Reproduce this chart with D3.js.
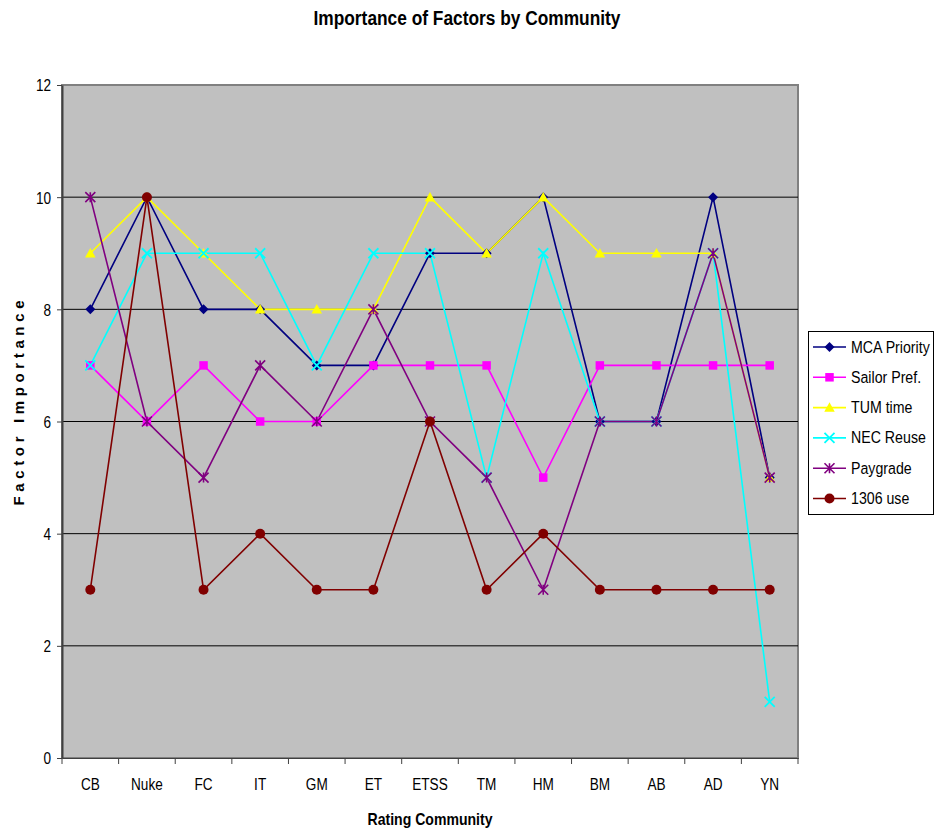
<!DOCTYPE html>
<html><head><meta charset="utf-8">
<script src="https://cdn.jsdelivr.net/npm/d3@7"></script>
<style>
body{margin:0;background:#fff;}
text{font-family:"Liberation Sans",Arial,sans-serif;}
</style></head>
<body><svg id="c" width="935" height="830"></svg>
<script>
const categories = ["CB","Nuke","FC","IT","GM","ET","ETSS","TM","HM","BM","AB","AD","YN"];
const mcaPriority = [8,10,8,8,7,7,9,9,10,6,6,10,5];
const sailorPref  = [7,6,7,6,6,7,7,7,5,7,7,7,7];
const tumTime     = [9,10,9,8,8,8,10,9,10,9,9,9,5];
const necReuse    = [7,9,9,9,7,9,9,5,9,6,6,9,1];
const paygrade    = [10,6,5,7,6,8,6,5,3,6,6,9,5];
const use1306     = [3,10,3,4,3,3,6,3,4,3,3,3,3];
const yTicks = [0,2,4,6,8,10,12];

const series = [
  {name:"MCA Priority", values:mcaPriority, color:"#000080", sym:"diamond"},
  {name:"Sailor Pref.", values:sailorPref, color:"#FF00FF", sym:"square"},
  {name:"TUM time", values:tumTime, color:"#FFFF00", sym:"triangle"},
  {name:"NEC Reuse", values:necReuse, color:"#00FFFF", sym:"x"},
  {name:"Paygrade", values:paygrade, color:"#800080", sym:"star"},
  {name:"1306 use", values:use1306, color:"#800000", sym:"circle"}
];

const svg = d3.select("#c");
const L=62, R=798, T=85, B=758;
const x = d3.scaleBand().domain(categories).range([L,R]);
const y = d3.scaleLinear().domain([0,12]).range([B,T]);
const SX = 0.8;

svg.append("rect").attr("x",L).attr("y",T).attr("width",R-L).attr("height",B-T)
  .attr("fill","#C0C0C0").attr("stroke","#808080").attr("stroke-width",2);

// gridlines
svg.append("g").selectAll("line").data(yTicks.filter(d=>d>0&&d<12)).join("line")
  .attr("x1",L).attr("x2",R).attr("y1",d=>y(d)).attr("y2",d=>y(d))
  .attr("stroke","#000").attr("stroke-width",1);

// y axis
const ya = svg.append("g").attr("transform",`translate(${L},0)`)
  .call(d3.axisLeft(y).tickValues(yTicks).tickSize(5).tickSizeOuter(0).tickPadding(0));
ya.select(".domain").attr("stroke","#404040").attr("stroke-width",2);
ya.selectAll("line").attr("stroke","#404040");
ya.selectAll("text").attr("font-size",17).attr("fill","#000")
  .attr("x",null).attr("dy","0.35em")
  .attr("transform",`translate(-11,0) scale(${SX},1)`);

// x axis
const xa = svg.append("g").attr("transform",`translate(0,${B})`)
  .call(d3.axisBottom(x).tickSize(0).tickPadding(0));
xa.select(".domain").attr("stroke","#404040").attr("stroke-width",1);
xa.selectAll("text").attr("font-size",17).attr("fill","#000")
  .attr("y",null).attr("dy","0.71em")
  .attr("transform",`translate(0,20) scale(${SX},1)`);
// category boundary ticks
svg.append("g").selectAll("line").data(categories.concat(["_end"])).join("line")
  .attr("x1",(d,i)=>i<categories.length?x(d):R).attr("x2",(d,i)=>i<categories.length?x(d):R)
  .attr("y1",B).attr("y2",B+6).attr("stroke","#404040");

const cx = c => x(c)+x.bandwidth()/2;

function drawSym(g, sym, color, s){
  if(sym==="diamond"){
    g.append("path").attr("d",`M0,${-s}L${s},0L0,${s}L${-s},0Z`).attr("fill",color);
  } else if(sym==="square"){
    g.append("rect").attr("x",-s*0.85).attr("y",-s*0.85).attr("width",s*1.7).attr("height",s*1.7).attr("fill",color);
  } else if(sym==="triangle"){
    g.append("path").attr("d",`M0,${-s*1.05}L${s*1.05},${s*0.85}L${-s*1.05},${s*0.85}Z`).attr("fill",color);
  } else if(sym==="x"){
    g.append("path").attr("d",`M${-s},${-s}L${s},${s}M${-s},${s}L${s},${-s}`).attr("stroke",color).attr("stroke-width",1.8).attr("fill","none");
  } else if(sym==="star"){
    g.append("path").attr("d",`M${-s},${-s}L${s},${s}M${-s},${s}L${s},${-s}M0,${-s}L0,${s}`).attr("stroke",color).attr("stroke-width",1.6).attr("fill","none");
  } else if(sym==="circle"){
    g.append("circle").attr("r",s).attr("fill",color);
  }
}

const line = d3.line().x((d,i)=>cx(categories[i])).y(d=>y(d));
series.forEach(s=>{
  svg.append("path").datum(s.values).attr("d",line).attr("fill","none")
    .attr("stroke",s.color).attr("stroke-width",1.6);
});
series.forEach(s=>{
  s.values.forEach((v,i)=>{
    const g = svg.append("g").attr("transform",`translate(${cx(categories[i])},${y(v)})`);
    drawSym(g, s.sym, s.color, 5);
  });
});

// title
svg.append("text").attr("x",467).attr("y",25).attr("text-anchor","middle")
  .attr("font-size",20).attr("font-weight","bold")
  .attr("textLength",307).attr("lengthAdjust","spacingAndGlyphs")
  .text("Importance of Factors by Community");
// axis titles
svg.append("text").attr("x",430).attr("y",825).attr("text-anchor","middle")
  .attr("font-size",17).attr("font-weight","bold")
  .attr("textLength",125).attr("lengthAdjust","spacingAndGlyphs")
  .text("Rating Community");
svg.append("text").attr("transform","translate(24,403) rotate(-90)").attr("text-anchor","middle")
  .attr("font-size",15).attr("font-weight","bold")
  .attr("textLength",205).attr("lengthAdjust","spacing")
  .text("Factor Importance");

// legend
const lg = svg.append("g");
lg.append("rect").attr("x",808.5).attr("y",331.5).attr("width",125).attr("height",183)
  .attr("fill","#fff").attr("stroke","#000");
series.forEach((s,i)=>{
  const yy = 347 + i*30.3;
  lg.append("line").attr("x1",813).attr("x2",846).attr("y1",yy).attr("y2",yy)
    .attr("stroke",s.color).attr("stroke-width",1.6);
  drawSym(lg.append("g").attr("transform",`translate(829.5,${yy})`), s.sym, s.color, 5);
  lg.append("text").attr("transform",`translate(851,${yy+5.5}) scale(0.86,1)`).attr("font-size",16.5)
    .text(s.name);
});
</script></body></html>
